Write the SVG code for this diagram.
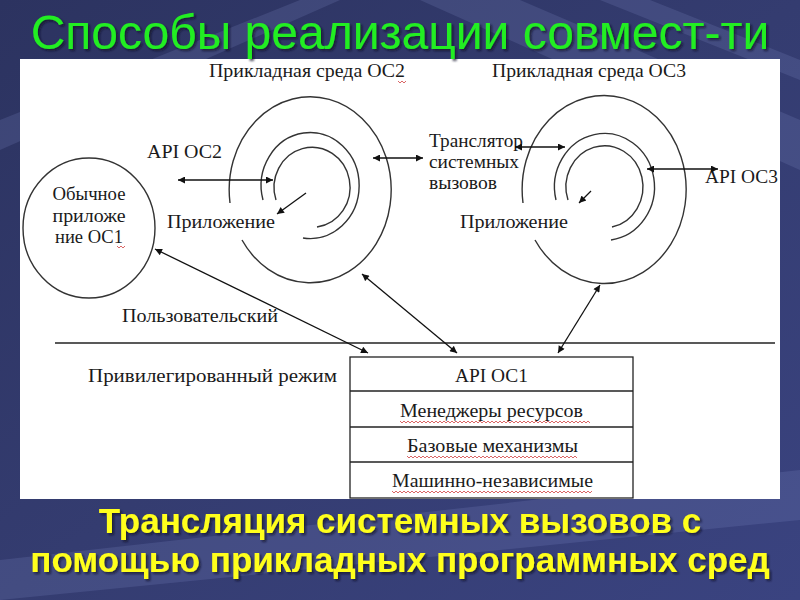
<svg xmlns="http://www.w3.org/2000/svg" width="800" height="600" viewBox="0 0 800 600">
<defs>
  <linearGradient id="bg" x1="0" y1="0" x2="1" y2="1">
    <stop offset="0" stop-color="#2c3360"/>
    <stop offset="0.5" stop-color="#343c70"/>
    <stop offset="1" stop-color="#3a4380"/>
  </linearGradient>
  <filter id="shadow" x="-5%" y="-20%" width="110%" height="140%">
    <feDropShadow dx="2" dy="2" stdDeviation="0.8" flood-color="#0a0f20" flood-opacity="0.7"/>
  </filter>
  <marker id="ah" viewBox="0 0 10 10" refX="10" refY="5" markerWidth="9" markerHeight="7" markerUnits="userSpaceOnUse" orient="auto-start-reverse">
    <path d="M0,0 L10,5 L0,10 Z" fill="#111"/>
  </marker>
  <style>
    .t{font-family:"Liberation Serif","Times New Roman",serif;font-size:18px;fill:#1a1a1a}
    .ring{fill:none;stroke:#333;stroke-width:1.4}
    .c{fill:none;stroke:#111;stroke-width:1.3}
    .ca{marker-end:url(#ah)}
    .cb{marker-start:url(#ah);marker-end:url(#ah)}
    .sq{fill:none;stroke:#d04040;stroke-width:0.8}
    .title{font-family:"Liberation Sans",Arial,sans-serif;font-size:48px;fill:#22ee22;filter:url(#shadow)}
    .bot{font-family:"Liberation Sans",Arial,sans-serif;font-weight:bold;font-size:35px;fill:#ffff1a;filter:url(#shadow)}
  </style>
</defs>
<rect x="0" y="0" width="800" height="600" fill="url(#bg)"/>
<g opacity="0.18" fill="#8a96d0">
  <polygon points="420,0 520,0 800,120 800,170"/>
  <polygon points="600,0 650,0 800,60 800,80"/>
  <polygon points="0,560 800,470 800,520 0,600"/>
  <polygon points="0,150 0,120 300,0 340,0"/>
</g>
<!-- white panel -->
<rect x="20" y="59" width="760" height="440" fill="#ffffff"/>

<!-- separator -->
<g id="separator">
  <line x1="55" y1="343" x2="775" y2="343" stroke="#222" stroke-width="1.3"/>
</g>

<g id="title">
  <text class="title" x="400" y="49" text-anchor="middle">Способы реализации совмест-ти</text>
</g>

<g id="env-oc2">
  <text class="t" x="209" y="77" textLength="196" lengthAdjust="spacingAndGlyphs">Прикладная среда ОС2</text>
  <path class="ring" d="M230,203 A81,93 0 1,1 242,240"/>
  <path class="ring" d="M263,200 A49,53 0 1,1 303,238"/>
  <path class="ring" d="M276,200 A38,40 0 1,1 317,227"/>
  <text class="t" x="167" y="228" textLength="108" lengthAdjust="spacingAndGlyphs">Приложение</text>
</g>

<g id="env-oc3">
  <text class="t" x="492" y="77" textLength="194" lengthAdjust="spacingAndGlyphs">Прикладная среда ОС3</text>
  <path class="ring" d="M523,203 A82,94 0 1,1 535,240"/>
  <path class="ring" d="M556,200 A50,53.5 0 1,1 611,240"/>
  <path class="ring" d="M568,200 A38.5,41 0 1,1 612,227"/>
  <text class="t" x="460" y="228" textLength="108" lengthAdjust="spacingAndGlyphs">Приложение</text>
</g>

<g id="app-oc1">
  <ellipse cx="89" cy="228" rx="66" ry="70" fill="none" stroke="#333" stroke-width="1.4"/>
  <text class="t" x="89" y="200" text-anchor="middle" textLength="73" lengthAdjust="spacingAndGlyphs">Обычное</text>
  <text class="t" x="89" y="222" text-anchor="middle" textLength="73" lengthAdjust="spacingAndGlyphs">приложе</text>
  <text class="t" x="89" y="243" text-anchor="middle" textLength="68" lengthAdjust="spacingAndGlyphs">ние ОС1</text>
</g>

<g id="api-oc2">
  <text class="t" x="147" y="158" textLength="75" lengthAdjust="spacingAndGlyphs">API ОС2</text>
</g>

<g id="translator">
  <text class="t" x="429" y="147" textLength="94" lengthAdjust="spacingAndGlyphs">Транслятор</text>
  <text class="t" x="429" y="168" textLength="90" lengthAdjust="spacingAndGlyphs">системных</text>
  <text class="t" x="429" y="189" textLength="68" lengthAdjust="spacingAndGlyphs">вызовов</text>
</g>

<g id="api-oc3">
  <text class="t" x="705" y="183" textLength="73" lengthAdjust="spacingAndGlyphs">API ОС3</text>
</g>

<g id="user-mode">
  <text class="t" x="122" y="322" textLength="156" lengthAdjust="spacingAndGlyphs">Пользовательский</text>
</g>

<g id="priv-mode">
  <text class="t" x="88" y="382" textLength="249" lengthAdjust="spacingAndGlyphs">Привилегированный режим</text>
</g>

<g id="os1-stack">
  <rect x="350" y="357" width="283" height="141" fill="#fff" stroke="#222" stroke-width="1.3"/>
  <line x1="350" y1="391" x2="633" y2="391" stroke="#222" stroke-width="1.3"/>
  <line x1="350" y1="427" x2="633" y2="427" stroke="#222" stroke-width="1.3"/>
  <line x1="350" y1="462" x2="633" y2="462" stroke="#222" stroke-width="1.3"/>
  <text class="t" x="455" y="382" textLength="73" lengthAdjust="spacingAndGlyphs">API ОС1</text>
  <text class="t" x="400" y="417" textLength="183" lengthAdjust="spacingAndGlyphs">Менеджеры ресурсов</text>
  <text class="t" x="407" y="452" textLength="171" lengthAdjust="spacingAndGlyphs">Базовые механизмы</text>
  <text class="t" x="392" y="487" textLength="201" lengthAdjust="spacingAndGlyphs">Машинно-независимые</text>
</g>

<g id="spellmarks">
  <path class="sq" d="M398,81 l2,2 l2,-2 l2,2 l2,-2"/>
  <path class="sq" d="M117,246 l2,2 l2,-2 l2,2 l2,-2"/>
  <path class="sq" d="M400,421 l2,2 l2,-2 l2,2 l2,-2 l2,2 l2,-2 l2,2 l2,-2 l2,2 l2,-2 l2,2 l2,-2 l2,2 l2,-2 l2,2 l2,-2 l2,2 l2,-2 l2,2 l2,-2 l2,2 l2,-2 l2,2 l2,-2 l2,2 l2,-2 l2,2 l2,-2 l2,2 l2,-2 l2,2 l2,-2 l2,2 l2,-2 l2,2 l2,-2 l2,2 l2,-2 l2,2 l2,-2 l2,2 l2,-2 l2,2 l2,-2 l2,2 l2,-2 l2,2 l2,-2 l2,2 l2,-2 l2,2 l2,-2 l2,2 l2,-2 l2,2 l2,-2 l2,2 l2,-2 l2,2 l2,-2 l2,2 l2,-2 l2,2 l2,-2 l2,2 l2,-2 l2,2 l2,-2 l2,2 l2,-2 l2,2 l2,-2 l2,2 l2,-2 l2,2 l2,-2 l2,2 l2,-2 l2,2 l2,-2 l2,2 l2,-2 l2,2 l2,-2 l2,2 l2,-2 l2,2 l2,-2 l2,2 l2,-2 l2,2 l2,-2 l2,2 l2,-2 l2,2"/>
  <path class="sq" d="M407,456 l2,2 l2,-2 l2,2 l2,-2 l2,2 l2,-2 l2,2 l2,-2 l2,2 l2,-2 l2,2 l2,-2 l2,2 l2,-2 l2,2 l2,-2 l2,2 l2,-2 l2,2 l2,-2 l2,2 l2,-2 l2,2 l2,-2 l2,2 l2,-2 l2,2 l2,-2 l2,2 l2,-2 l2,2 l2,-2 l2,2 l2,-2 l2,2 l2,-2 l2,2 l2,-2 l2,2 l2,-2 l2,2 l2,-2 l2,2 l2,-2 l2,2 l2,-2 l2,2 l2,-2 l2,2 l2,-2 l2,2 l2,-2 l2,2 l2,-2 l2,2 l2,-2 l2,2 l2,-2 l2,2 l2,-2 l2,2 l2,-2 l2,2 l2,-2 l2,2 l2,-2 l2,2 l2,-2 l2,2 l2,-2 l2,2 l2,-2 l2,2 l2,-2 l2,2 l2,-2 l2,2 l2,-2 l2,2 l2,-2 l2,2 l2,-2 l2,2 l2,-2 l2,2"/>
  <path class="sq" d="M392,491 l2,2 l2,-2 l2,2 l2,-2 l2,2 l2,-2 l2,2 l2,-2 l2,2 l2,-2 l2,2 l2,-2 l2,2 l2,-2 l2,2 l2,-2 l2,2 l2,-2 l2,2 l2,-2 l2,2 l2,-2 l2,2 l2,-2 l2,2 l2,-2 l2,2 l2,-2 l2,2 l2,-2 l2,2 l2,-2 l2,2 l2,-2 l2,2 l2,-2 l2,2 l2,-2 l2,2 l2,-2 l2,2 l2,-2 l2,2 l2,-2 l2,2 l2,-2 l2,2 l2,-2 l2,2 l2,-2 l2,2 l2,-2 l2,2 l2,-2 l2,2 l2,-2 l2,2 l2,-2 l2,2 l2,-2 l2,2 l2,-2 l2,2 l2,-2 l2,2 l2,-2 l2,2 l2,-2 l2,2 l2,-2 l2,2 l2,-2 l2,2 l2,-2 l2,2 l2,-2 l2,2 l2,-2 l2,2 l2,-2 l2,2 l2,-2 l2,2 l2,-2 l2,2 l2,-2 l2,2 l2,-2 l2,2 l2,-2 l2,2 l2,-2 l2,2 l2,-2 l2,2 l2,-2 l2,2 l2,-2 l2,2 l2,-2"/>
</g>

<g id="connectors">
  <line class="c cb" x1="178" y1="180" x2="273" y2="180"/>
  <line class="c ca" x1="306" y1="193" x2="277" y2="214"/>
  <line class="c cb" x1="373" y1="158" x2="423" y2="158"/>
  <line class="c cb" x1="515" y1="147" x2="565" y2="147"/>
  <line class="c cb" x1="647" y1="169" x2="718" y2="169"/>
  <line class="c ca" x1="591" y1="191" x2="579" y2="203"/>
  <line class="c cb" x1="155" y1="249" x2="368" y2="353"/>
  <line class="c cb" x1="362" y1="274" x2="457" y2="353"/>
  <line class="c cb" x1="600" y1="285" x2="558" y2="353"/>
</g>

<g id="caption">
  <text class="bot" x="400" y="533" text-anchor="middle">Трансляция системных вызовов с</text>
  <text class="bot" x="400" y="572" text-anchor="middle">помощью прикладных программных сред</text>
</g>
</svg>
